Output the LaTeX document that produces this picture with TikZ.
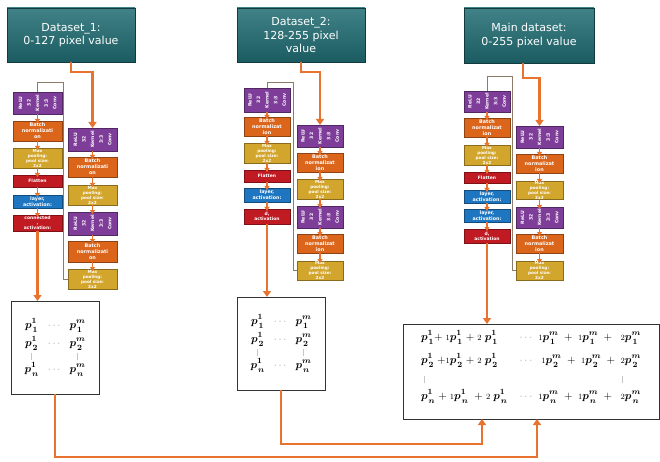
\documentclass[tikz,border=0pt]{standalone}
\usepackage{fontspec}
\usepackage{amsmath,bm}
\usepackage{graphicx}
\usetikzlibrary{arrows.meta,shadows,calc,backgrounds}
\newfontfamily\dvs{DejaVu Sans}
\definecolor{cteal}{HTML}{1F6C72}
\definecolor{cpurple}{HTML}{7E3D98}
\definecolor{corange}{HTML}{DC651C}
\definecolor{cyellow}{HTML}{D2A52C}
\definecolor{cred}{HTML}{C01A22}
\definecolor{cblue}{HTML}{1E76C0}
\definecolor{carrow}{HTML}{E8732E}
\definecolor{cline}{HTML}{8C7B68}
\newcommand\bx[7]{\node[#2, minimum width={(#5)-(#3)}, minimum height={(#6)-(#4)}] (#1) at ({((#3)+(#5))/2},{((#4)+(#6))/2}) {#7};}
\newcommand\convtxt{\rotatebox{90}{\fontsize{4.6}{8.6}\selectfont\begin{tabular}{@{}c@{}}ReLU\\32\\Kernel\\3:3\\Conv\end{tabular}}}
\newcommand\pooltxt{Max\\pooling:\\pool size:\\2x2}
\newcommand\pre[1]{{\scriptstyle #1}}
\newcommand\vbar{\textcolor{gray!45}{\rule[-1pt]{0.5pt}{7pt}}}
\newcommand\pp[2]{\bm{p}_{\kern1pt\raisebox{-0.9pt}{$\scriptstyle\bm{#1}$}}^{\raisebox{1.3pt}{$\scriptstyle\bm{#2}$}}}
\newcommand\matA{$\begin{array}{@{}c@{\hspace{9pt}}c@{\hspace{9pt}}c@{}}
\pp11 & \textcolor{gray!70}{\cdots} & \pp1m\\[4pt]
\pp21 & \textcolor{gray!70}{\cdots} & \pp2m\\[-1pt]
\vbar & & \vbar\\[-1pt]
\pp n1 & \textcolor{gray!70}{\cdots} & \pp nm
\end{array}$}
\newcommand\matB{$\begin{array}{@{}l@{\hspace{12pt}}c@{\hspace{6pt}}r@{}}
\pp11{+}\;\pre1\pp11\;{+}\;\pre2\;\pp11 & \textcolor{gray!70}{\cdots} & \pre1\pp1m\;+\;\pre1\pp1m\;+\;\;\pre2\pp1m\\[9pt]
\pp21\;{+}\pre1\pp21\;{+}\;\pre2\;\pp21 & \textcolor{gray!70}{\cdots} & \pre1\pp2m\;+\;\pre1\pp2m\;+\;\pre2\pp2m\\[5pt]
\;\vbar & & \vbar\hspace{18pt}\\[3pt]
\pp n1\;{+}\;\pre1\pp n1\;\;{+}\;\pre2\;\pp n1 & \textcolor{gray!70}{\cdots} & \pre1\pp nm\;+\;\pre1\pp nm\;+\;\;\pre2\pp nm
\end{array}$}
\tikzset{
  box/.style={draw=#1!65!black, fill=#1, line width=0.5pt, inner sep=0pt, outer sep=0pt,
    text=white, align=center, font=\dvs\bfseries\fontsize{4.9}{6}\selectfont,
    drop shadow={shadow xshift=0.8pt, shadow yshift=-0.8pt, opacity=0.35}},
  pbox/.style={box=cpurple},
  obox/.style={box=corange},
  ybox/.style={box=cyellow, font=\dvs\bfseries\fontsize{4.2}{5}\selectfont},
  rbox/.style={box=cred, font=\dvs\bfseries\fontsize{4.5}{5.3}\selectfont},
  bbox/.style={box=cblue, font=\dvs\bfseries\fontsize{4.8}{5.8}\selectfont},
  title/.style={draw=cteal!55!black, line width=0.6pt, top color=cteal!85!white, bottom color=cteal!85!black,
    inner sep=0pt, outer sep=0pt, text=white, align=center, font=\dvs\fontsize{11}{13.5}\selectfont,
    drop shadow={shadow xshift=1.2pt, shadow yshift=-1.2pt, opacity=0.4}},
  mat/.style={draw=black!80, line width=0.8pt, fill=white, inner sep=0pt, outer sep=0pt,
    drop shadow={shadow xshift=0.8pt, shadow yshift=-0.8pt, opacity=0.25}},
  mtext/.style={inner sep=0pt, font=\fontsize{11}{13.5}\selectfont},
  oarrow/.style={draw=carrow, line width=2.3pt, -{Triangle[width=8pt,length=6pt]}},
  sarrow/.style={draw=carrow, line width=1.5pt, shorten >=-2pt, -{Triangle[width=5pt,length=4pt]}},
  loopline/.style={draw=cline, line width=0.7pt}
}
\begin{document}
\begin{tikzpicture}[x=1pt,y=-1pt]
\useasboundingbox (0,0) rectangle (660,462);

% ---------- titles ----------
\bx{T1}{title}{7}{8}{135}{62}{Dataset\_1:\\0-127 pixel value}
\bx{T2}{title}{237}{8}{365}{62}{Dataset\_2:\\128-255 pixel\\value}
\bx{T3}{title}{464}{8}{594}{63}{Main dataset:\\0-255 pixel value}

\coordinate (k1) at (63.5,82);
\coordinate (k2) at (293.5,82);
\coordinate (k3) at (512.5,76);

% ---------- column 1 ----------
\bx{al1}{pbox}{13}{92}{62}{114}{\convtxt}
\bx{al2}{obox}{13}{121}{62}{141}{Batch\\normalizati\\on}
\bx{al3}{ybox}{13}{148}{62}{168}{\pooltxt}
\bx{al4}{rbox}{13}{175}{62}{187}{Flatten}
\bx{al5}{bbox}{13}{195}{62}{208}{layer,\\activation:}
\bx{al6}{rbox}{13}{215}{62}{231}{connected\\,\\activation:}
\bx{ar1}{pbox}{68}{128}{117}{151}{\convtxt}
\bx{ar2}{obox}{68}{157}{117}{177}{Batch\\normalizati\\on}
\bx{ar3}{ybox}{68}{185}{117}{205}{\pooltxt}
\bx{ar4}{pbox}{68}{212}{117}{235}{\convtxt}
\bx{ar5}{obox}{68}{241}{117}{262}{Batch\\normalizati\\on}
\bx{ar6}{ybox}{68}{269}{117}{289}{\pooltxt}

% ---------- column 2 ----------
\bx{bl1}{pbox}{244}{88}{290}{112}{\convtxt}
\bx{bl2}{obox}{244}{117}{290}{136}{Batch\\normalizat\\ion}
\bx{bl3}{ybox}{244}{143}{290}{163}{\pooltxt}
\bx{bl4}{rbox}{244}{170}{290}{182}{Flatten}
\bx{bl5}{bbox}{244}{188}{290}{202}{layer,\\activation:}
\bx{bl6}{rbox}{244}{209}{290}{224}{d,\\activation}
\bx{br1}{pbox}{297}{125}{343}{147}{\convtxt}
\bx{br2}{obox}{297}{153}{343}{172}{Batch\\normalizat\\ion}
\bx{br3}{ybox}{297}{179}{343}{199}{\pooltxt}
\bx{br4}{pbox}{297}{206}{343}{228}{\convtxt}
\bx{br5}{obox}{297}{234}{343}{253}{Batch\\normalizat\\ion}
\bx{br6}{ybox}{297}{261}{343}{280}{\pooltxt}

% ---------- column 3 ----------
\bx{cl1}{pbox}{464}{91}{510}{112}{\convtxt}
\bx{cl2}{obox}{464}{118}{510}{137}{Batch\\normalizat\\ion}
\bx{cl3}{ybox}{464}{145}{510}{165}{\pooltxt}
\bx{cl4}{rbox}{464}{172}{510}{183}{Flatten}
\bx{cl5}{bbox}{464}{190}{510}{203}{layer,\\activation:}
\bx{cl6}{bbox}{464}{209}{510}{222}{layer,\\activation:}
\bx{cl7}{rbox}{464}{229}{510}{243}{d,\\activation}
\bx{cr1}{pbox}{516}{126}{563}{148}{\convtxt}
\bx{cr2}{obox}{516}{154}{563}{173}{Batch\\normalizat\\ion}
\bx{cr3}{ybox}{516}{181}{563}{199}{\pooltxt}
\bx{cr4}{pbox}{516}{207}{563}{228}{\convtxt}
\bx{cr5}{obox}{516}{234}{563}{253}{Batch\\normalizat\\ion}
\bx{cr6}{ybox}{516}{261}{563}{280}{\pooltxt}

% ---------- loop connectors (behind boxes) ----------
\begin{scope}[on background layer]
\draw[loopline] (ar6.west) -| (k1) -| (al1.north);
\draw[loopline] (br6.west) -| (k2) -| (bl1.north);
\draw[loopline] (cr6.west) -| (k3) -| (cl1.north);
\end{scope}

% ---------- small arrows ----------
\foreach \a/\b in {al1/al2,al2/al3,al3/al4,al4/al5,al5/al6,
                   ar1/ar2,ar2/ar3,ar3/ar4,ar4/ar5,ar5/ar6,
                   bl1/bl2,bl2/bl3,bl3/bl4,bl4/bl5,bl5/bl6,
                   br1/br2,br2/br3,br3/br4,br4/br5,br5/br6,
                   cl1/cl2,cl2/cl3,cl3/cl4,cl4/cl5,cl5/cl6,cl6/cl7,
                   cr1/cr2,cr2/cr3,cr3/cr4,cr4/cr5,cr5/cr6}
  \draw[sarrow] (\a.south) -- (\b.north);

% ---------- matrices ----------
\bx{M1}{mat}{11}{301}{99}{394}{}
\bx{M2}{mat}{237}{297}{325}{390}{}
\bx{M3}{mat}{403}{324}{659}{419}{}
\node[mtext] (M1t) at (55,347.5) {\matA};
\node[mtext] (M2t) at (281,343.5) {\matA};
\node[mtext] (M3t) at (531,367) {\matB};

% ---------- main arrows ----------
\draw[oarrow] (T1.south) -- ++(0,10) -| (ar1.north);
\draw[oarrow] (T2.south) -- ++(0,10) -| (br1.north);
\draw[oarrow] ([xshift=-6pt]T3.south) -- ++(0,15) -| (cr1.north);
\draw[oarrow] (al6.south) -- (al6.south |- M1.north);
\draw[oarrow] (bl6.south) -- (bl6.south |- M2.north);
\draw[oarrow] (cl7.south) -- (cl7.south |- M3.north);
\coordinate (j1) at (537,457);
\coordinate (j2) at (482,444);
\draw[oarrow] (M1.south) |- (j1) -- (j1 |- M3.south);
\draw[oarrow] (M2.south) |- (j2) -- (j2 |- M3.south);
\end{tikzpicture}
\end{document}
